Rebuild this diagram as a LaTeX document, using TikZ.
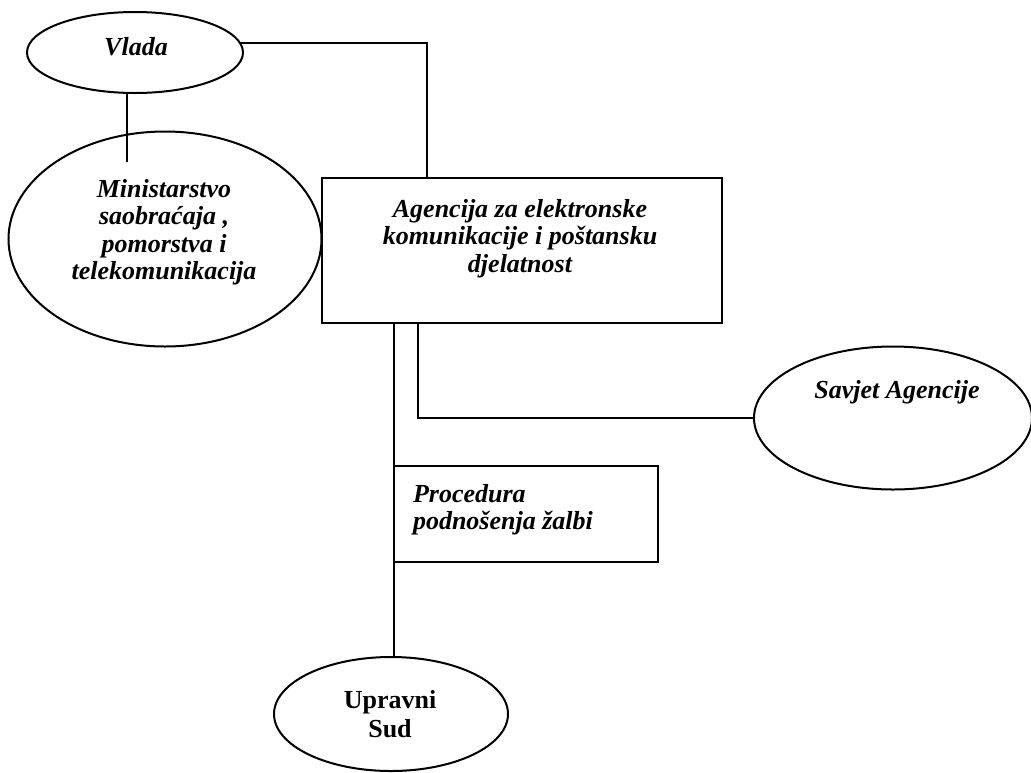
\documentclass[tikz,border=0pt]{standalone}
\usepackage{fontspec}
\setmainfont{Liberation Serif}
\usetikzlibrary{shapes.geometric}
% several centred (or left-aligned) lines whose baseline is the first line's
\newcommand{\stacked}[2][c]{\begin{tabular}[t]{@{}#1@{}}#2\end{tabular}}

\begin{document}
\begin{tikzpicture}[x=1pt,y=-1pt,
  line width=2pt,
  oval/.style={ellipse, draw, inner sep=0pt, outer sep=0pt},
  box/.style={rectangle, draw, inner sep=0pt, outer sep=0pt},
  caption/.style={inner sep=0pt, outer sep=0pt, anchor=base,
    font=\fontsize{26}{27.5}\selectfont\bfseries\itshape},
  plaincaption/.style={caption, font=\fontsize{26}{29}\selectfont\bfseries}]

\fill[white] (0,0) rectangle (1031,772);
\useasboundingbox (0,0) rectangle (1031,772);

% shapes
\node[oval, minimum width=216pt, minimum height=81pt]  (vlada)  at (135,52.5) {};
\node[oval, minimum width=313pt, minimum height=215pt] (min)    at (165,239) {};
\node[box,  minimum width=400pt, minimum height=145pt] (agen)   at (522,250.5) {};
\node[box,  minimum width=264pt, minimum height=96pt]  (proc)   at (526,514) {};
\node[oval, minimum width=278pt, minimum height=143pt] (savjet) at (893,418) {};
\node[oval, minimum width=234pt, minimum height=114pt] (sud)    at (391,714) {};

% texts
\node[caption] (vladaT) at (136,55) {Vlada};
\node[caption] (minT) at (164,197)
  {\stacked{Ministarstvo\\ saobraćaja ,\\ pomorstva i\\ telekomunikacija}};
\node[caption] (agenT) at (520,217)
  {\stacked{Agencija za elektronske\\ komunikacije i poštansku\\ djelatnost}};
\node[caption, anchor=base west] (procT) at (413,502)
  {\stacked[l]{Procedura\\ podnošenja žalbi}};
\node[caption] (savjetT) at (897,398) {Savjet Agencije};
\node[plaincaption] (sudT) at (390,708) {\stacked{Upravni\\ Sud}};

% connectors
\coordinate (mtick) at (127,162);
\coordinate (agenTop) at ([xshift=105pt]agen.north west);
\coordinate (agenL) at ([xshift=72pt]agen.south west);
\coordinate (agenR) at ([xshift=96pt]agen.south west);

\draw (vlada.5) -| (agenTop);
\draw (vlada.south -| mtick) -- (mtick);
\draw (agenL) -- (agenL |- sud.north);
\draw (agenR) |- (savjet.west);

\end{tikzpicture}
\end{document}
